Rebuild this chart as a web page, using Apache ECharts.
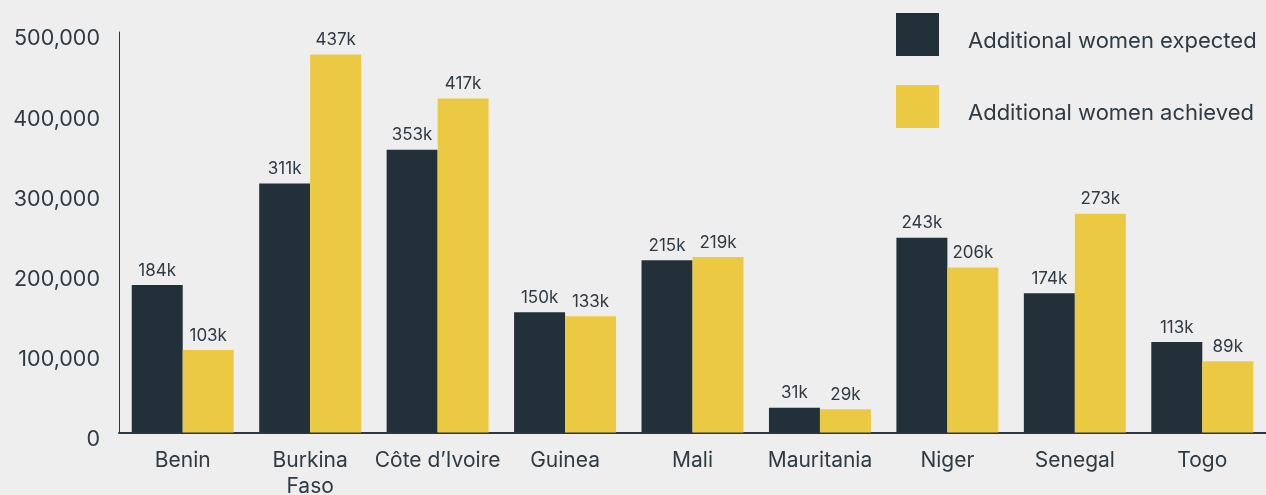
<!DOCTYPE html>
<html>
<head>
<meta charset="utf-8">
<script src="https://cdn.jsdelivr.net/npm/echarts@6/dist/echarts.min.js"></script>
<style>
  html, body { margin: 0; padding: 0; background: #edeeed; }
  #chart { width: 1266px; height: 495px; }
</style>
</head>
<body>
<div id="chart"></div>
<script>
// countries on the x axis
const countries = ['Benin', 'Burkina\nFaso', 'Côte d\u2019Ivoire', 'Guinea', 'Mali', 'Mauritania', 'Niger', 'Senegal', 'Togo'];

// bar heights as drawn in the picture
const expectedVals = [184000, 311000, 353000, 150000, 215000, 31000, 243000, 174000, 113000];
const achievedVals = [103000, 472000, 417000, 145000, 219000, 29000, 206000, 273000, 89000];

// the labels printed above the bars
const expectedLabels = ['184k', '311k', '353k', '150k', '215k', '31k', '243k', '174k', '113k'];
const achievedLabels = ['103k', '437k', '417k', '133k', '219k', '29k', '206k', '273k', '89k'];

const yTicks = [0, 100000, 200000, 300000, 400000, 500000];

const dark = '#22303a';
const yellow = '#ecc943';
const textCol = '#2e3a44';
const font = 'Inter';

let chart = echarts.init(document.getElementById('chart'), null, {renderer: 'canvas'});

function barLabel(labels){
    return {
        show: true,
        position: 'top',
        distance: 6,
        color: textCol,
        fontFamily: font,
        fontSize: 17,
        formatter: (p) => labels[p.dataIndex]
    }
}

let option = {
    backgroundColor: '#edeeed',
    animation: false,
    textStyle: { fontFamily: font },
    legend: {
        orient: 'vertical',
        left: 896,
        top: 13,
        padding: 0,
        itemWidth: 43,
        itemHeight: 43,
        itemGap: 29,
        icon: 'rect',
        formatter: '{t|{name}}',
        textStyle: {
            color: textCol,
            fontFamily: font,
            fontSize: 22,
            rich: {
                t: {
                    color: textCol,
                    fontFamily: font,
                    fontSize: 22,
                    padding: [14, 0, 0, 24]
                }
            }
        },
        data: ['Additional women expected', 'Additional women achieved']
    },
    grid: {
        left: 119,
        right: 0,
        top: 32,
        bottom: 62.5,
        containLabel: false,
        outerBoundsMode: 'none'
    },
    xAxis: {
        type: 'category',
        data: countries,
        axisLine: { lineStyle: { color: '#2b3944', width: 2 } },
        axisTick: { show: false },
        axisLabel: {
            color: textCol,
            fontFamily: font,
            fontSize: 21,
            lineHeight: 26,
            margin: 15,
            interval: 0
        }
    },
    yAxis: {
        type: 'value',
        min: yTicks[0],
        max: yTicks[yTicks.length - 1],
        interval: 100000,
        axisLine: { show: true, lineStyle: { color: '#2b3944', width: 1 } },
        axisTick: { show: false },
        splitLine: { show: false },
        axisLabel: {
            color: textCol,
            fontFamily: font,
            fontSize: 21.5,
            margin: 19,
            verticalAlign: 'top',
            lineHeight: 14,
            formatter: (v) => v.toLocaleString('en-US')
        }
    },
    series: [
        {
            name: 'Additional women expected',
            type: 'bar',
            barGap: 0,
            barCategoryGap: '20%',
            itemStyle: { color: dark },
            label: barLabel(expectedLabels),
            data: expectedVals
        },
        {
            name: 'Additional women achieved',
            type: 'bar',
            barGap: 0,
            barCategoryGap: '20%',
            itemStyle: { color: yellow },
            label: barLabel(achievedLabels),
            data: achievedVals
        }
    ]
};

chart.setOption(option);
</script>
</body>
</html>
